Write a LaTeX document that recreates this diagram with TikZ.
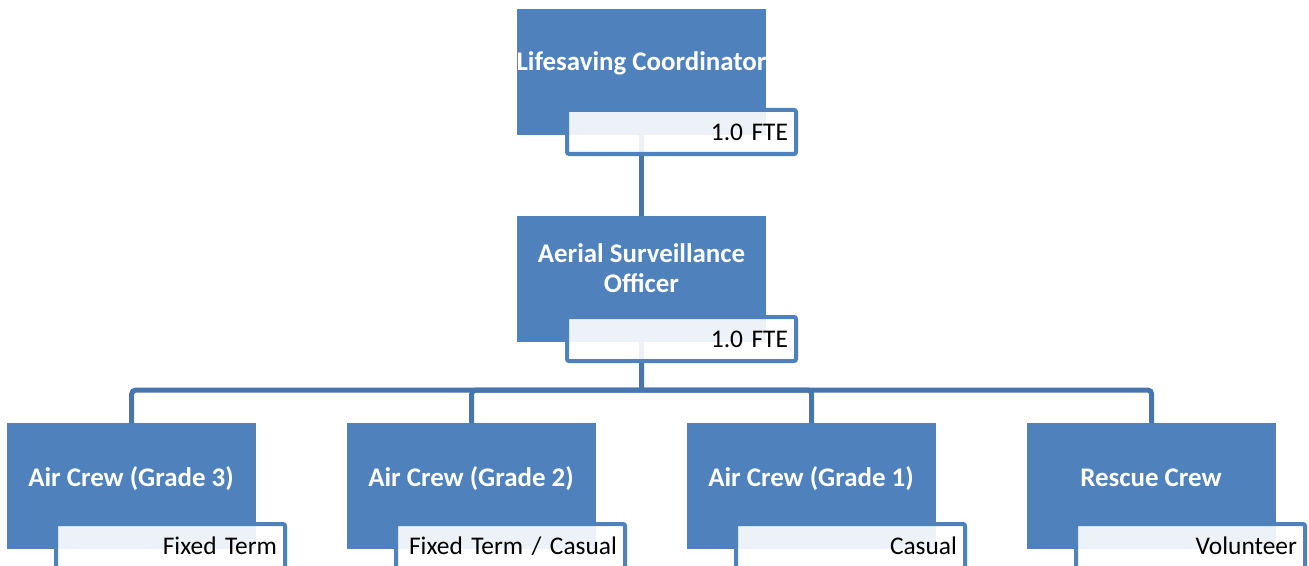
\documentclass[tikz,border=0pt]{standalone}
\usepackage{fontspec}
\setmainfont{Carlito}
\definecolor{boxblue}{HTML}{4F81BD}
\definecolor{lineblue}{HTML}{4775AD}
\tikzset{
  bluebox/.style={fill=boxblue, draw=none, minimum width=249bp, minimum height=126bp, anchor=north west, inner sep=0pt},
  tagbox/.style={draw=boxblue, line width=4bp, rounded corners=2bp, fill=white, fill opacity=0.9, text opacity=1,
    minimum width=229bp, minimum height=44bp, anchor=north west, inner xsep=8bp, inner ysep=0pt,
    text width=213bp, align=right, text height=16bp, text depth=0bp, font=\fontsize{25.5}{30}\selectfont},
  title/.style={text=white, font=\bfseries\fontsize{27}{30}\selectfont, align=center, inner sep=0pt},
  conn/.style={draw=lineblue, line width=5bp, rounded corners=4bp},
}
\begin{document}
\begin{tikzpicture}[x=1bp,y=-1bp]
\useasboundingbox (0,0) rectangle (1309,566);
% blue boxes
\node[bluebox] (top) at (517,9) {};
\node[bluebox] (mid) at (517,216) {};
\node[bluebox] (g3) at (7,423) {};
\node[bluebox] (g2) at (347,423) {};
\node[bluebox] (g1) at (687,423) {};
\node[bluebox] (rc) at (1027,423) {};
% connectors
\coordinate (bus) at (641.5,390);
\draw[conn] (top.south) -- (mid.north);
\draw[conn] (mid.south) -- (bus);
\draw[conn] (bus) -| (g3.north);
\draw[conn] (bus) -| (g2.north);
\draw[conn] (bus) -| (g1.north);
\draw[conn] (bus) -| (rc.north);
% titles
\node[title, anchor=base] (ttop) at (641.5,71) {Lifesaving Coordinator};
\node[title] (tmid) at (641.5,268) {Aerial Surveillance\\Officer};
\node[title, anchor=base] (tg3) at (131,486) {Air Crew (Grade 3)};
\node[title, anchor=base] (tg2) at (471,486) {Air Crew (Grade 2)};
\node[title, anchor=base] (tg1) at (811,486) {Air Crew (Grade 1)};
\node[title, anchor=base] (trc) at (1151,486) {Rescue Crew};
% tags
\node[tagbox] (ltop) at (565,108) {1.0 FTE};
\node[tagbox] (lmid) at (565,315) {1.0 FTE};
\node[tagbox] (lg3) at (54,522) {Fixed Term};
\node[tagbox] (lg2) at (394,522) {Fixed Term / Casual};
\node[tagbox] (lg1) at (734,522) {Casual};
\node[tagbox] (lrc) at (1074,522) {Volunteer};
\end{tikzpicture}
\end{document}
